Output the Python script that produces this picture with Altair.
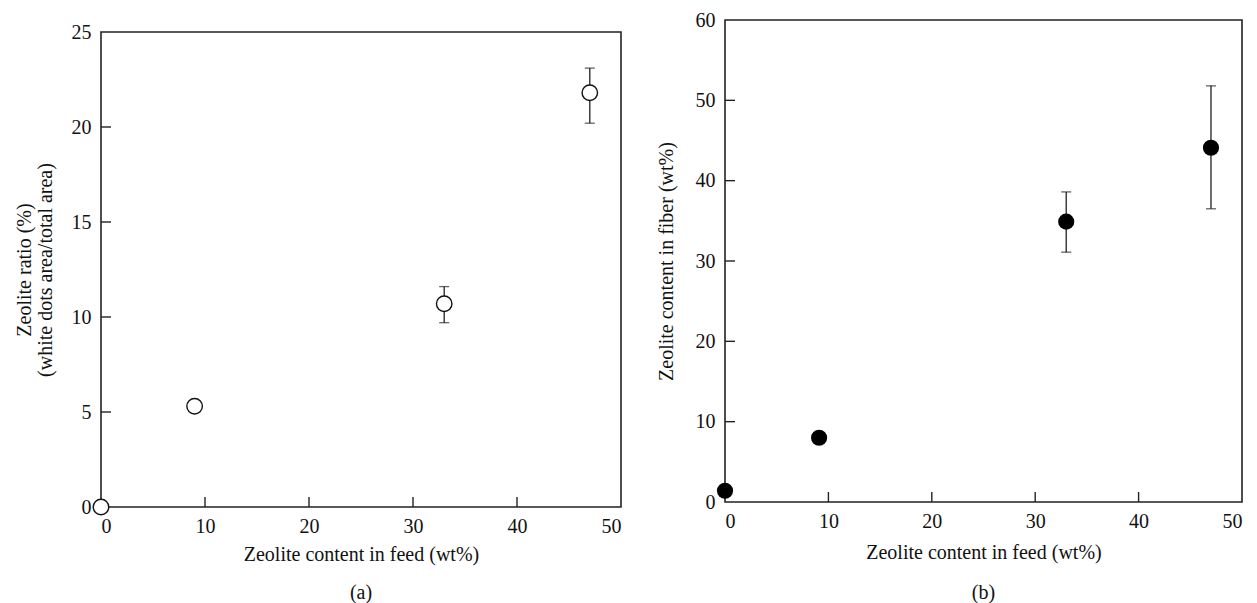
import altair as alt
import pandas as pd

# ---- data ----
feed_a = [0, 9, 33, 47]
ratio_a = [0, 5.3, 10.7, 21.8]
err_feed_a = [33, 47]
err_lo_a = [9.7, 20.2]
err_hi_a = [11.6, 23.1]

feed_b = [0, 9.1, 33, 47]
fiber_b = [1.4, 8.0, 34.9, 44.1]
err_feed_b = [33, 47]
err_lo_b = [31.1, 36.5]
err_hi_b = [38.6, 51.8]

xticks = [0, 10, 20, 30, 40, 50]
yticks_a = [0, 5, 10, 15, 20, 25]
yticks_b = [0, 10, 20, 30, 40, 50, 60]

FONT = "Liberation Serif"
FS = 20
LINE = "#222"


def panel(xs, ys, elo_x, elo, ehi, ytick_vals, ydom, ytitle, sub, w, h, open_marker,
          tpad, xtpad, suboff):
    pts = pd.DataFrame({"x": xs, "y": ys})
    err = pd.DataFrame({"x": elo_x, "lo": elo, "hi": ehi})
    xt = pd.DataFrame({"x": xticks[1:-1]})
    yt = pd.DataFrame({"y": ytick_vals[1:-1]})

    xaxis = alt.Axis(values=xticks, ticks=False, domain=False, grid=False,
                     labelPadding=9, labelFontSize=FS, labelFont=FONT,
                     labelColor="#111", title="Zeolite content in feed (wt%)",
                     titleFont=FONT, titleFontSize=FS, titleFontWeight="normal",
                     titleColor="#111", titlePadding=xtpad)
    yaxis = alt.Axis(values=ytick_vals, ticks=False, domain=False, grid=False,
                     labelPadding=10, labelFontSize=FS, labelFont=FONT,
                     labelColor="#111", title=ytitle, titleFont=FONT,
                     titleFontSize=FS, titleFontWeight="normal", titleColor="#111",
                     titleLineHeight=21, titlePadding=tpad)
    xs_ = alt.Scale(domain=[0, 50], nice=False, zero=False)
    ys_ = alt.Scale(domain=ydom, nice=False, zero=False)

    def X(f="x"):
        return alt.X(f"{f}:Q", scale=xs_, axis=xaxis)

    def Y(f):
        return alt.Y(f"{f}:Q", scale=ys_, axis=yaxis)

    xtick_layer = alt.Chart(xt).mark_rule(color=LINE, strokeWidth=1.4).encode(
        x=X(), y=alt.value(h), y2=alt.value(h - 10))
    ytick_layer = alt.Chart(yt).mark_rule(color=LINE, strokeWidth=1.4).encode(
        y=Y("y"), x=alt.value(0), x2=alt.value(10))
    bars = alt.Chart(err).mark_rule(color=LINE, strokeWidth=1.3).encode(
        x=X(), y=Y("lo"), y2="hi:Q")
    cap_lo = alt.Chart(err).mark_tick(color=LINE, thickness=1.3, size=10,
                                      orient="horizontal").encode(x=X(), y=Y("lo"))
    cap_hi = alt.Chart(err).mark_tick(color=LINE, thickness=1.3, size=10,
                                      orient="horizontal").encode(x=X(), y=Y("hi"))
    if open_marker:
        dots = alt.Chart(pts).mark_point(shape="circle", filled=True, fill="white",
                                         fillOpacity=1, stroke="#111", strokeWidth=1.4,
                                         size=240, opacity=1).encode(x=X(), y=Y("y"))
    else:
        dots = alt.Chart(pts).mark_point(shape="circle", filled=True, color="black",
                                         size=260, opacity=1).encode(x=X(), y=Y("y"))
    return alt.layer(xtick_layer, ytick_layer, bars, cap_lo, cap_hi, dots).properties(
        width=w, height=h,
        title=alt.TitleParams(sub, orient="bottom", anchor="middle", font=FONT,
                              fontSize=FS, fontWeight="normal", color="#111",
                              offset=suboff))


left = panel(feed_a, ratio_a, err_feed_a, err_lo_a, err_hi_a, yticks_a, [0, 25],
             ["Zeolite ratio (%)", "(white dots area/total area)"], "(a)", 520, 475, True,
             16, 8, 19)
right = panel(feed_b, fiber_b, err_feed_b, err_lo_b, err_hi_b, yticks_b, [0, 60],
              "Zeolite content in fiber (wt%)", "(b)", 517, 482, False, 19, 11, 21)

# tiny invisible spacer that pushes panel (a) a few pixels lower than panel (b)
spacer = alt.Chart(pd.DataFrame({"x": [0]})).mark_point(opacity=0, size=1).encode(
    x=alt.X("x:Q", axis=None), y=alt.value(0)
).properties(width=1, height=1, view=alt.ViewBackground(strokeOpacity=0))

left_col = alt.vconcat(spacer, left, spacing=0)

chart = alt.hconcat(left_col, right, spacing=33).properties(
    padding={"left": 13, "top": 9, "right": 5, "bottom": 0},
    background="white",
).configure_view(stroke=LINE, strokeWidth=1.6)

chart.save("out.html", embed_options={"renderer": "svg", "actions": False})
